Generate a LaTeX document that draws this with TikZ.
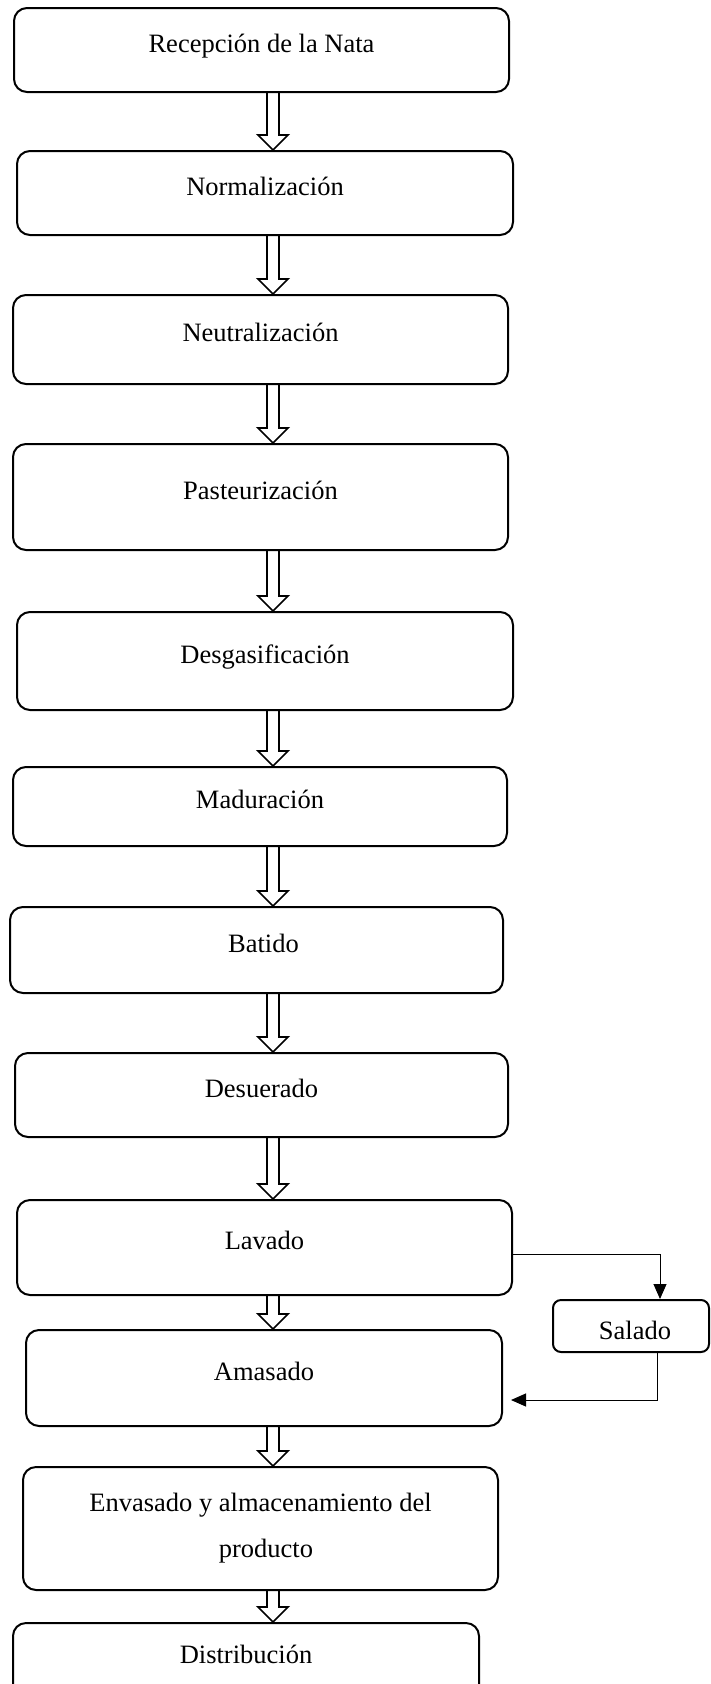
\documentclass[tikz,border=0pt]{standalone}
\usepackage{fontspec}
\setmainfont{Liberation Serif}
\usetikzlibrary{calc,arrows.meta}
\tikzset{
  stage/.style={draw, line width=2pt, rounded corners=13pt, inner sep=0pt,
    font=\fontsize{26.5}{46}\selectfont, align=center},
  oneline/.style={stage, text height=4pt, text depth=0pt},
  hollow/.style={draw, line width=1.7pt, line join=miter},
  conn/.style={draw, line width=1pt},
  tip/.style={-{Triangle[length=15pt,width=13pt]}},
}
\newcommand\flowarrow[2]{%
  \draw[hollow] let \p1=(#1.south), \p2=(#2.north) in
    (267pt,\y1) -- (267pt,\y2+15pt) -- (258pt,\y2+15pt) -- (273pt,\y2)
    -- (288pt,\y2+15pt) -- (279pt,\y2+15pt) -- (279pt,\y1);}
\begin{document}
\begin{tikzpicture}[x=1pt,y=-1pt]
\clip (0,0) rectangle (711,1684);
\node[oneline, minimum width=495pt, minimum height=84pt] (n1) at (261.5,50) {Recepción de la Nata};
\node[oneline, minimum width=496pt, minimum height=84pt] (n2) at (265,193) {Normalización};
\node[oneline, minimum width=495pt, minimum height=89pt] (n3) at (260.5,339.5) {Neutralización};
\node[oneline, minimum width=495pt, minimum height=106pt] (n4) at (260.5,497) {Pasteurización};
\node[oneline, minimum width=496pt, minimum height=98pt] (n5) at (265,661) {Desgasificación};
\node[oneline, minimum width=494pt, minimum height=79pt] (n6) at (260,806.5) {Maduración};
\node[oneline, minimum width=493pt, minimum height=86pt] (n7) at (256.5,950) {\hspace*{14pt}Batido};
\node[oneline, minimum width=493pt, minimum height=84pt] (n8) at (261.5,1095) {Desuerado};
\node[oneline, minimum width=495pt, minimum height=95pt] (n9) at (264.5,1247.5) {Lavado};
\node[oneline, minimum width=476pt, minimum height=96pt] (n10) at (264,1378) {Amasado};
\node[stage, minimum width=475pt, minimum height=123pt] (n11) at (260.5,1528.5) {Envasado y almacenamiento del\\\hspace*{11pt}producto};
\node[stage, text height=0pt, text depth=4pt, minimum width=466pt, minimum height=85pt] (n12) at (246,1665.5) {Distribución};
\node[stage, rounded corners=8pt, text height=26pt, text depth=0pt, minimum width=156pt, minimum height=52pt] (sal) at (631,1326) {\hspace*{8pt}Salado};
\flowarrow{n1}{n2}
\flowarrow{n2}{n3}
\flowarrow{n3}{n4}
\flowarrow{n4}{n5}
\flowarrow{n5}{n6}
\flowarrow{n6}{n7}
\flowarrow{n7}{n8}
\flowarrow{n8}{n9}
\flowarrow{n9}{n10}
\flowarrow{n10}{n11}
\flowarrow{n11}{n12}
\draw[conn, tip] ([yshift=-6.5pt]n9.east) -| ([xshift=29pt]sal.north);
\draw[conn, tip] ([xshift=26pt]sal.south) |- ([xshift=8pt,yshift=-22pt]n10.east);
\end{tikzpicture}
\end{document}
